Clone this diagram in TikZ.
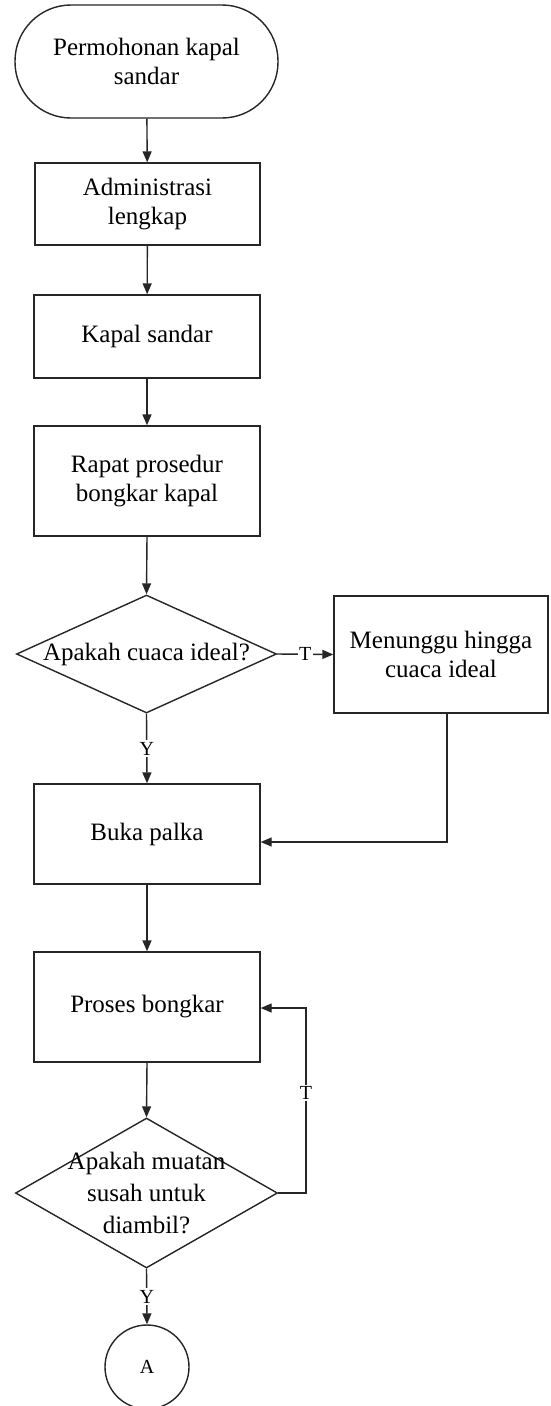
\documentclass[tikz,border=0pt]{standalone}
\usepackage{fontspec}
\setmainfont{Liberation Serif}
\usetikzlibrary{shapes.geometric,arrows.meta}
\begin{document}
\begin{tikzpicture}[x=1pt,y=-1pt,
  lc/.style={draw=black!85, line width=1.4pt},
  txt/.style={font=\fontsize{25}{29}\selectfont, align=center},
  term/.style={lc, txt, rectangle, rounded corners=56pt, inner sep=0pt},
  proc/.style={lc, txt, rectangle, inner sep=0pt},
  dia/.style={lc, diamond, inner sep=0pt},
  conn/.style={lc, circle, inner sep=0pt, font=\fontsize{20}{20}\selectfont},
  flow/.style={lc, -{Triangle[length=11pt,width=9pt]}},
  lab/.style={fill=white, inner sep=1.5pt, font=\fontsize{20}{20}\selectfont}
]
\useasboundingbox (0,0) rectangle (550,1406);
\fill[white] (0,0) rectangle (550,1406);

\node[term, minimum width=263pt, minimum height=113pt] (start) at (146.5,61.5) {Permohonan kapal\\sandar};
\node[proc, minimum width=225pt, minimum height=82pt] (admin) at (147.5,204) {Administrasi\\lengkap};
\node[proc, minimum width=226pt, minimum height=83pt] (kapal) at (147,336.5) {Kapal sandar};
\node[proc, minimum width=226pt, minimum height=110pt] (rapat) at (147,481) {Rapat prosedur\\bongkar kapal};
\node[dia, minimum width=260pt, minimum height=118pt] (d1) at (146.5,654) {};
\node[txt] (d1t) at (d1) {Apakah cuaca ideal?};
\node[proc, minimum width=214pt, minimum height=117pt] (wait) at (441,654.5) {Menunggu hingga\\cuaca ideal};
\node[proc, minimum width=226pt, minimum height=100pt] (buka) at (147,834) {Buka palka};
\node[proc, minimum width=226pt, minimum height=110pt] (proses) at (147,1007) {Proses bongkar};
\node[dia, minimum width=262pt, minimum height=150pt] (d2) at (146.5,1193) {};
\node[txt, font=\fontsize{25}{32}\selectfont] (d2t) at (d2) {Apakah muatan\\susah untuk\\diambil?};
\node[conn, minimum size=84pt] (a) at (147,1367) {A};

\coordinate (loop) at (306,1193);

\draw[flow] (start) -- (admin);
\draw[flow] (admin) -- (kapal);
\draw[flow] (kapal) -- (rapat);
\draw[flow] (rapat.south) -- (d1.north);
\draw[flow] (d1.east) -- node[lab]{T} (wait.west);
\draw[flow] (d1.south) -- node[lab]{Y} (buka.north);
\draw[flow] ([xshift=6pt]wait.south) |- ([yshift=-8pt]buka.east);
\draw[flow] (buka) -- (proses);
\draw[flow] (proses.south) -- (d2.north);
\draw[flow] (d2.east) -- (loop) |- node[lab, pos=0.27]{T} ([yshift=-1pt]proses.east);
\draw[flow] (d2.south) -- node[lab]{Y} (a.north);
\end{tikzpicture}
\end{document}
